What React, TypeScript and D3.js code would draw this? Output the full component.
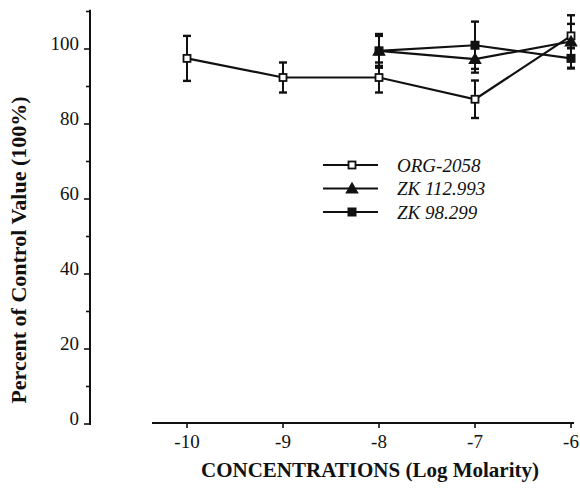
import React from 'react';
import * as d3 from 'd3';

// log molar concentrations on the x axis
const xTicks = [-10, -9, -8, -7, -6];
const yMajorTicks = [0, 20, 40, 60, 80, 100];
const yMinorTicks = [10, 30, 50, 70, 90, 110];

// percent of control, with error bars (+/-)
const orgX = [-10, -9, -8, -7, -6];
const orgValues = [97.5, 92.4, 92.4, 86.6, 103.5];
const orgErrors = [6, 4, 4, 5, 3.2];

const zk112X = [-8, -7, -6];
const zk112Values = [99.5, 97.3, 102];
const zk112Errors = [4.5, 3.6, 7];

const zk98X = [-8, -7, -6];
const zk98Values = [99.5, 101, 97.5];
const zk98Errors = [4, 6.3, 2.7];

const legendLabels = ['ORG-2058', 'ZK 112.993', 'ZK 98.299'];

const font = '"Liberation Serif", "Times New Roman", serif';

type Pt = { x: number; v: number; e: number };
const zip = (xs: number[], vs: number[], es: number[]): Pt[] =>
  xs.map((x, i) => ({ x, v: vs[i], e: es[i] }));

const series = [
  { name: legendLabels[0], marker: 'openSquare', data: zip(orgX, orgValues, orgErrors) },
  { name: legendLabels[1], marker: 'triangle', data: zip(zk112X, zk112Values, zk112Errors) },
  { name: legendLabels[2], marker: 'square', data: zip(zk98X, zk98Values, zk98Errors) },
];

const Marker = ({ kind, cx, cy }: { kind: string; cx: number; cy: number }) => {
  if (kind === 'openSquare')
    return <rect x={cx - 3.5} y={cy - 3.5} width={7} height={7} fill="#fff" stroke="#111" strokeWidth={1.8} />;
  if (kind === 'square')
    return <rect x={cx - 4.5} y={cy - 4.5} width={9} height={9} fill="#111" />;
  const tri = d3.symbol().type(d3.symbolTriangle).size(80)();
  return <path d={tri || ''} transform={`translate(${cx},${cy + 1})`} fill="#111" />;
};

const App = () => {
  const x = d3.scaleLinear().domain([-10, -6]).range([187, 571]);
  const y = d3.scaleLinear().domain([0, 100]).range([424, 49]);
  const line = d3.line<Pt>().x(d => x(d.x)).y(d => y(d.v));

  const axisLeft = 90;
  const axisBottom = 424;

  return (
    <svg width={580} height={491} style={{ position: 'absolute', left: 0, top: 0, background: '#fff' }}>
      {/* y axis */}
      <line x1={axisLeft} x2={axisLeft} y1={y(110.5)} y2={axisBottom + 1} stroke="#111" strokeWidth={2} />
      {yMajorTicks.map(t => (
        <g key={'ym' + t}>
          <line x1={axisLeft - 6} x2={axisLeft} y1={y(t)} y2={y(t)} stroke="#111" strokeWidth={1.6} />
          <text x={axisLeft - 11} y={y(t) + 1} textAnchor="end" fontFamily={font} fontSize={19} fill="#111">
            {t}
          </text>
        </g>
      ))}
      {yMinorTicks.map(t => (
        <line key={'yn' + t} x1={axisLeft - 4} x2={axisLeft} y1={y(t)} y2={y(t)} stroke="#111" strokeWidth={1.6} />
      ))}
      <text
        transform={`translate(26,250) rotate(-90)`}
        textAnchor="middle"
        fontFamily={font}
        fontWeight="bold"
        fontSize={22}
        fill="#111"
      >
        Percent of Control Value (100%)
      </text>

      {/* x axis */}
      <line x1={152} x2={574} y1={axisBottom - 1} y2={axisBottom - 1} stroke="#111" strokeWidth={2} />
      {xTicks.map(t => (
        <g key={'x' + t}>
          <line x1={x(t)} x2={x(t)} y1={axisBottom - 1} y2={axisBottom + 4} stroke="#111" strokeWidth={1.6} />
          <text x={x(t)} y={448} textAnchor="middle" fontFamily={font} fontSize={19} fill="#111">
            {t}
          </text>
        </g>
      ))}
      <text x={370} y={477} textAnchor="middle" fontFamily={font} fontWeight="bold" fontSize={21} fill="#111">
        CONCENTRATIONS (Log Molarity)
      </text>

      {/* lines */}
      {series.map(s => (
        <path key={'l' + s.name} d={line(s.data) || ''} fill="none" stroke="#111" strokeWidth={2.2} />
      ))}
      {/* error bars */}
      {series.map(s =>
        s.data.map(d => (
          <g key={'e' + s.name + d.x} stroke="#111" strokeWidth={2}>
            <line x1={x(d.x)} x2={x(d.x)} y1={y(d.v - d.e)} y2={y(d.v + d.e)} />
            <line x1={x(d.x) - 4} x2={x(d.x) + 4} y1={y(d.v - d.e)} y2={y(d.v - d.e)} strokeWidth={2.4} />
            <line x1={x(d.x) - 4} x2={x(d.x) + 4} y1={y(d.v + d.e)} y2={y(d.v + d.e)} strokeWidth={2.4} />
          </g>
        ))
      )}
      {/* markers */}
      {series.map(s =>
        s.data.map(d => <Marker key={'m' + s.name + d.x} kind={s.marker} cx={x(d.x)} cy={y(d.v)} />)
      )}

      {/* legend */}
      {series.map((s, i) => {
        const ly = 165 + i * 23.5;
        return (
          <g key={'lg' + s.name}>
            <line x1={323} x2={378} y1={ly} y2={ly} stroke="#111" strokeWidth={2} />
            <Marker kind={s.marker} cx={352} cy={ly} />
            <text x={397} y={ly} dy="0.35em" fontFamily={font} fontStyle="italic" fontSize={19} fill="#111">
              {s.name}
            </text>
          </g>
        );
      })}
    </svg>
  );
};

export default App;
